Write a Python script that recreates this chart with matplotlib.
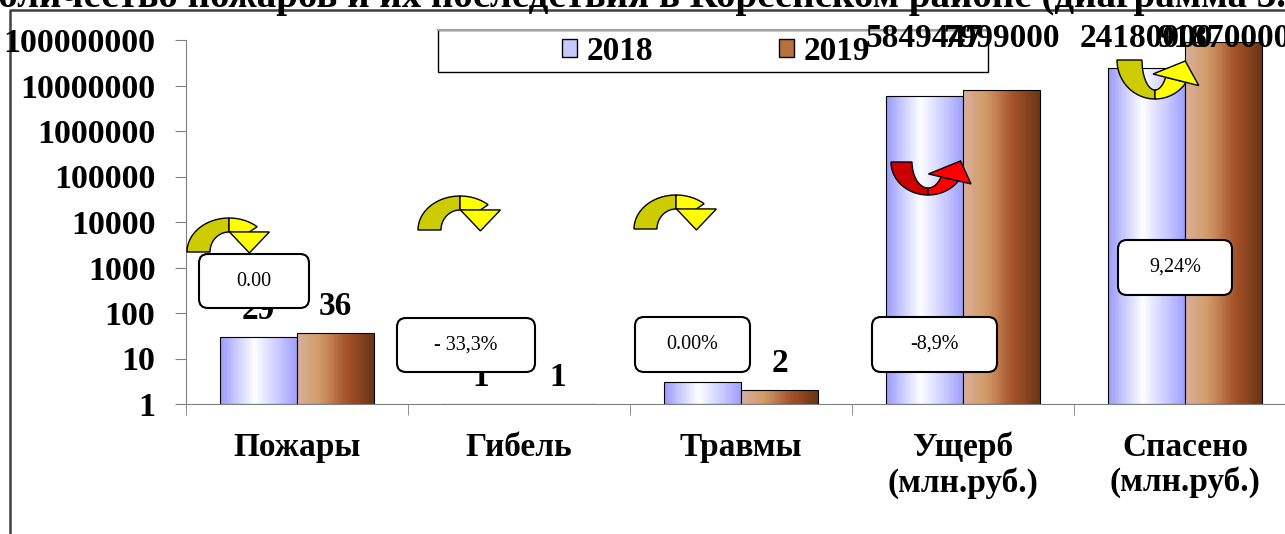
import matplotlib.pyplot as plt
import numpy as np
from matplotlib.patches import Polygon, FancyBboxPatch, Rectangle, Patch
from matplotlib.colors import LinearSegmentedColormap
from matplotlib.ticker import NullLocator

plt.rcParams['font.family'] = ['Liberation Serif', 'DejaVu Serif']

# data
categories = ['Пожары', 'Гибель', 'Травмы', 'Ущерб\n(млн.руб.)', 'Спасено\n(млн.руб.)']
years = ['2018', '2019']
v2018 = [29, 1, 3, 5849447, 24180000]
v2019 = [36, 1, 2, 7999000, 91870000]
changes = ['0.00', '- 33,3%', '0.00%', '-8,9%', '9,24%']
yticks = [1, 10, 100, 1000, 10000, 100000, 1000000, 10000000, 100000000]
title = 'Количество пожаров и их последствия в Корсенском районе (диаграмма 3.'

W, H = 1285, 534
fig = plt.figure(figsize=(W / 100, H / 100), dpi=100)
fig.patch.set_facecolor('white')

# background layer: frame, legend box, title (pixel coords, y down)
back = fig.add_axes([0, 0, 1, 1], zorder=-1)
back.set_xlim(0, W)
back.set_ylim(H, 0)
back.axis('off')
back.plot([10, 10, W + 5], [H + 5, 10, 10], color='#404040', lw=1.8)
back.add_patch(Rectangle((438, 30), 550, 42, facecolor='white', edgecolor='black', lw=1))
back.plot([438, 988], [30, 30], color='#a0a0a0', lw=1.5)
back.text(-28, 7, title, fontsize=28, weight='bold', va='baseline', ha='left')

# main axes
ax = fig.add_axes([186 / W, (H - 404) / H, 1110 / W, 364 / H])
ax.patch.set_visible(False)
ax.set_yscale('log')
ax.set_ylim(1, 1e8)
ax.set_xlim(-0.5, 4.5)

x = np.arange(len(categories))
bw = 77 / 222
cm18 = LinearSegmentedColormap.from_list('c18', [(0, '#9999ff'), (0.45, '#ffffff'), (1, '#a0a0ff')])
cm19 = LinearSegmentedColormap.from_list('c19', [(0, '#d8b09a'), (0.3, '#d29a68'),
                                                 (0.65, '#a4522a'), (1, '#6a3414')])
n = 40
for vals, cm, s in [(v2018, cm18, -0.5), (v2019, cm19, 0.5)]:
    centers = x + s * bw
    hts = np.array(vals, dtype=float) - 1
    for k in range(n):
        off = (k + 0.5) / n - 0.5
        ax.bar(centers + off * bw, hts, width=bw / n * 1.1, bottom=1,
               color=cm((k + 0.5) / n), linewidth=0)
    ax.bar(centers, hts, width=bw, bottom=1, fill=False, edgecolor='black', linewidth=0.8)
    for c, v in zip(centers, vals):
        if v >= 1e6:
            ax.text(c, 1.004, str(v), transform=ax.get_xaxis_transform(), ha='center',
                    va='center', fontsize=24, weight='bold')
        else:
            ax.annotate(str(v), (c, v), xytext=(0, 8), textcoords='offset points',
                        ha='center', va='bottom', fontsize=24, weight='bold')

ax.set_yticks(yticks)
ax.set_yticklabels([str(t) for t in yticks])
ax.yaxis.set_minor_locator(NullLocator())
ax.tick_params(axis='y', direction='out', length=8, color='#808080', labelsize=24.5, pad=14)
ax.set_xticks(x)
ax.set_xticklabels(categories, linespacing=1.15)
ax.set_xticks(np.arange(-0.5, 5, 1), minor=True)
ax.tick_params(axis='x', which='major', length=0, labelsize=24, pad=20)
ax.tick_params(axis='x', which='minor', length=8, color='#808080', direction='out')
for lab in ax.get_xticklabels() + ax.get_yticklabels():
    lab.set_fontweight('bold')
for s in ['top', 'right']:
    ax.spines[s].set_visible(False)
for s in ['left', 'bottom']:
    ax.spines[s].set_color('#808080')

fig.legend(handles=[Patch(facecolor='#c8c8ff', edgecolor='black'),
                    Patch(facecolor='#b8703c', edgecolor='black')],
           labels=years, ncol=2, loc='center', bbox_to_anchor=(716 / W, 1 - 51 / H),
           frameon=False, prop=dict(weight='bold', size=24), handlelength=0.45,
           handleheight=0.45, handletextpad=0.3, columnspacing=3.75)

# front layer: curved arrows and change boxes
front = fig.add_axes([0, 0, 1, 1], zorder=1)
front.set_xlim(0, W)
front.set_ylim(H, 0)
front.axis('off')


def ell(t, cx, cy, a, b, sgn):
    t = np.radians(t)
    return np.c_[cx + a * np.cos(t), cy + sgn * b * np.sin(t)]


def band(t0, t1, cx, cy, ao, bo, ai, bi, sgn):
    t = np.linspace(t0, t1, 40)
    return np.vstack([ell(t, cx, cy, ao, bo, sgn), ell(t[::-1], cx, cy, ai, bi, sgn)])


def uturn(cx, cy, ao, bo, ai, bi, over, dark, light, t_end, extra, hl):
    sgn = -1 if over else 1
    front.add_patch(Polygon(band(90, 180, cx, cy, ao, bo, ai, bi, sgn), closed=True,
                            facecolor=dark, edgecolor='black', lw=1))
    front.add_patch(Polygon(band(t_end, 90, cx, cy, ao, bo, ai, bi, sgn), closed=True,
                            facecolor=light, edgecolor='black', lw=1))
    m = ell([t_end], cx, cy, (ao + ai) / 2, (bo + bi) / 2, sgn)[0]
    if over:
        # head with a level base, pointing straight down
        head = [m + (-extra, 0), m + (extra, 0), m + (0, hl)]
    else:
        po = ell([t_end], cx, cy, ao, bo, sgn)[0]
        pi = ell([t_end], cx, cy, ai, bi, sgn)[0]
        r = (po - pi) / np.linalg.norm(po - pi)
        half = np.linalg.norm(po - pi) / 2 + extra
        b = ell([t_end - 2], cx, cy, (ao + ai) / 2, (bo + bi) / 2, sgn)[0]
        tg = (b - m) / np.linalg.norm(b - m)
        head = [m + half * r, m + hl * tg, m - half * r]
    front.add_patch(Polygon(head, closed=True, facecolor=light, edgecolor='black', lw=1))


for L, T in [(187, 218), (418, 196), (634, 195)]:
    uturn(L + 42, T + 34, 42, 34, 19, 20, True, '#cccc00', '#ffff00', 48, 20, 21)
uturn(928, 162, 37, 33, 16, 26, False, '#cc0000', '#ff0000', 35, 13, 21)
uturn(1155, 60, 38, 39, 13, 30, False, '#cccc00', '#ffff00', 35, 13, 21)

boxes = [(199, 254, 110, 54), (397, 318, 138, 54), (635, 317, 115, 55),
         (872, 317, 125, 55), (1118, 240, 114, 55)]
for (bx, by, w, h), txt in zip(boxes, changes):
    front.add_patch(FancyBboxPatch((bx, by), w, h, boxstyle='round,pad=0,rounding_size=9',
                                   facecolor='white', edgecolor='black', lw=1.5))
    front.text(bx + w / 2, by + h / 2, txt, ha='center', va='center', fontsize=14.5)

fig.savefig('out.png', dpi=100)
